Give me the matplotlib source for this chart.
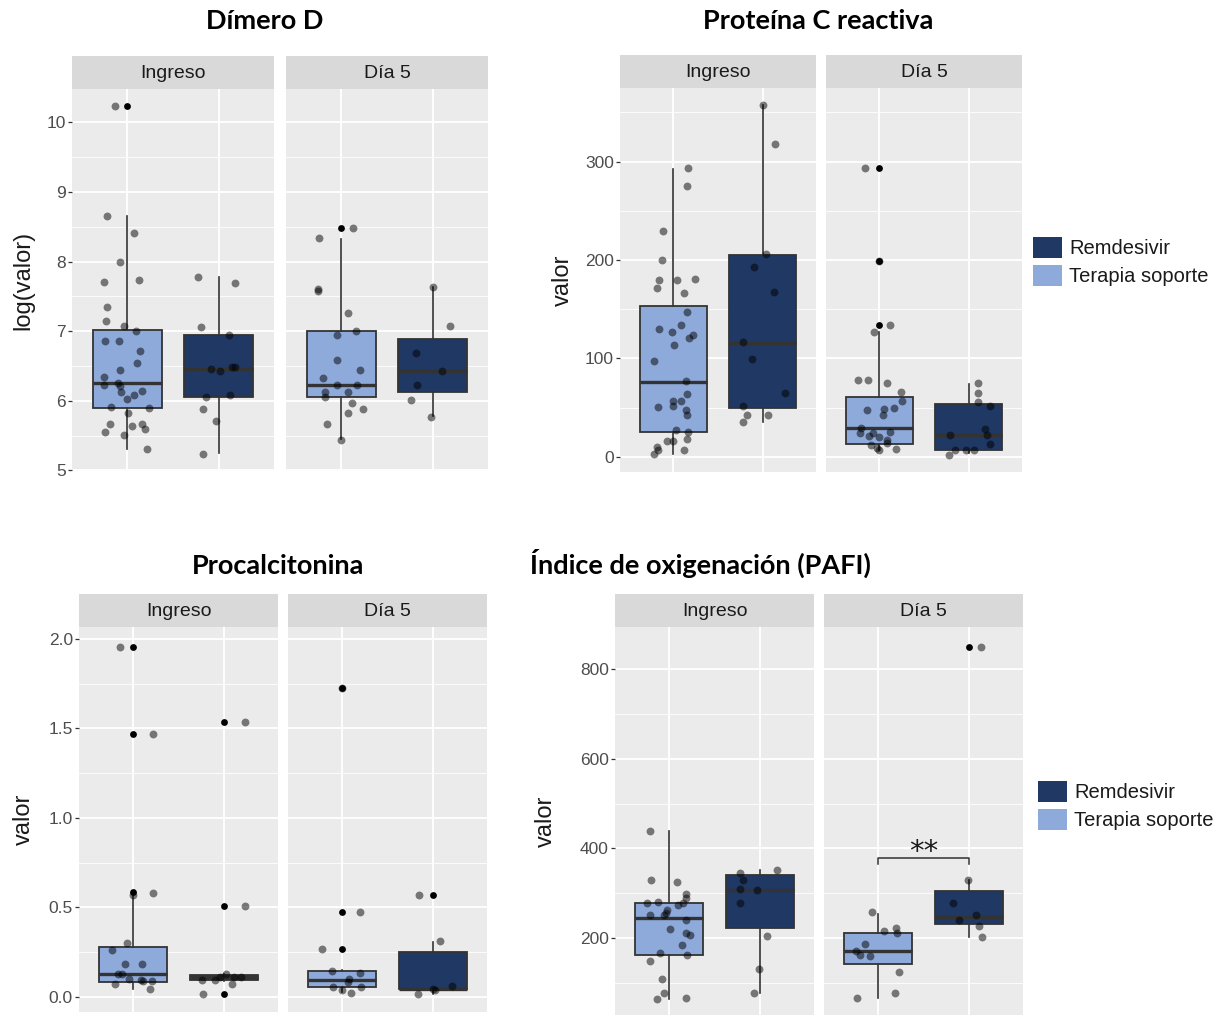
import numpy as np
import matplotlib
matplotlib.use("Agg")
import matplotlib.pyplot as plt
from matplotlib.patches import Rectangle
from matplotlib.ticker import MultipleLocator, FormatStrFormatter

plt.rcParams['font.family'] = ['Liberation Sans', 'DejaVu Sans']

W, H = 1232, 1015
BG = '#EBEBEB'
STRIP = '#D9D9D9'
C_REM = '#1F3864'
C_TS = '#8EAADB'
LINE = '#333333'

facets = ['Ingreso', 'Día 5']
groups = ['Remdesivir', 'Terapia soporte']

# ---- Dímero D (log) ----  box = [whislo, q1, med, q3, whishi]
dd_ing_ts_box = [5.30, 5.90, 6.25, 7.02, 8.65]
dd_ing_ts_y = [10.23, 8.66, 8.41, 8.00, 7.70, 7.73, 7.35, 7.14, 7.08, 7.00, 6.86, 6.86, 6.72,
               6.54, 6.44, 6.34, 6.23, 6.25, 6.21, 6.13, 6.14, 6.08, 6.02, 5.91, 5.89, 5.83,
               5.66, 5.63, 5.66, 5.55, 5.59, 5.51, 5.30]
dd_ing_ts_dx = [-0.13, -0.22, 0.08, -0.08, -0.25, 0.13, -0.22, -0.23, -0.03, 0.10, -0.24, -0.09, 0.14,
                0.11, -0.08, -0.25, -0.25, -0.10, -0.08, -0.07, 0.16, 0.08, 0.00, -0.17, 0.24, 0.01,
                -0.19, 0.05, 0.16, -0.24, 0.20, -0.03, 0.22]
dd_ing_ts_out = [10.23]
dd_ing_rem_box = [5.25, 6.06, 6.45, 6.95, 7.78]
dd_ing_rem_y = [7.78, 7.69, 7.06, 6.94, 6.45, 6.42, 6.49, 6.48, 6.06, 6.08, 5.88, 5.71, 5.24]
dd_ing_rem_dx = [-0.23, 0.17, -0.19, 0.11, -0.09, 0.01, 0.14, 0.17, -0.14, 0.12, -0.17, -0.03, -0.17]
dd_ing_rem_out = []
dd_d5_ts_box = [5.45, 6.06, 6.23, 7.00, 8.32]
dd_d5_ts_y = [8.34, 8.48, 7.60, 7.57, 7.26, 7.00, 6.94, 6.59, 6.44, 6.33, 6.23, 6.23, 6.13, 6.13,
              6.06, 5.97, 5.88, 5.83, 5.66, 5.43]
dd_d5_ts_dx = [-0.24, 0.13, -0.25, -0.25, 0.07, 0.16, -0.05, -0.04, 0.21, -0.20, -0.04, 0.17, -0.17, 0.07,
               -0.17, 0.12, 0.24, 0.07, -0.15, 0.00]
dd_d5_ts_out = [8.48]
dd_d5_rem_box = [5.78, 6.12, 6.43, 6.88, 7.63]
dd_d5_rem_y = [7.64, 7.08, 6.68, 6.43, 6.23, 6.01, 5.76]
dd_d5_rem_dx = [0.00, 0.19, -0.18, 0.10, -0.17, -0.24, -0.02]
dd_d5_rem_out = []

# ---- Proteína C reactiva ----
pcr_ing_ts_box = [3.4, 25.5, 76.5, 153, 292]
pcr_ing_ts_y = [293, 275, 229, 200, 180, 172, 180, 181, 167, 147, 130, 127, 134, 124, 121, 114, 97.5,
                77, 63.5, 57, 57, 51.6, 50.6, 47.6, 42.5, 27, 25.5, 18.7, 16, 16, 10, 7.5, 3.4, 7.5]
pcr_ing_ts_dx = [0.16, 0.15, -0.12, -0.13, -0.16, -0.19, 0.04, 0.24, 0.12, 0.15, -0.16, -0.02, 0.09,
                 0.22, 0.18, 0.01, -0.22, 0.14, 0.15, 0.09, 0.00, -0.01, -0.17, 0.14, 0.15, 0.03,
                 0.16, 0.15, -0.07, -0.01, -0.19, -0.17, -0.22, 0.12]
pcr_ing_ts_out = []
pcr_ing_rem_box = [35, 50, 115.5, 205.5, 357]
pcr_ing_rem_y = [357, 318, 206, 193, 168, 117, 99, 64.5, 51.6, 42.5, 42.5, 35]
pcr_ing_rem_dx = [0.01, 0.14, 0.04, -0.10, 0.13, -0.22, -0.12, 0.25, -0.22, -0.17, 0.06, -0.22]
pcr_ing_rem_out = []
pcr_d5_ts_box = [7, 13.6, 29, 61, 126.5]
pcr_d5_ts_y = [293, 199.5, 133.5, 127, 78, 78, 75, 65.6, 57, 50, 48.6, 48, 43, 29, 24.5, 25.5, 24, 21,
               20.4, 17, 12, 9.5, 7, 8.5, 14]
pcr_d5_ts_dx = [-0.16, 0.00, 0.12, -0.06, -0.24, -0.13, 0.08, 0.24, 0.25, 0.16, 0.05, -0.14, 0.04,
                -0.21, -0.07, 0.12, -0.22, -0.12, -0.01, 0.08, -0.10, -0.03, 0.00, 0.19, 0.09]
pcr_d5_ts_out = [293, 199.5, 133.5]
pcr_d5_rem_box = [4, 7.5, 22, 53.3, 74]
pcr_d5_rem_y = [75, 65, 56, 52, 22, 28, 22, 13.6, 7.5, 7, 7.5, 2.4]
pcr_d5_rem_dx = [0.11, 0.11, 0.11, 0.24, -0.21, 0.19, 0.21, 0.24, -0.15, -0.03, 0.06, -0.22]
pcr_d5_rem_out = []

# ---- Procalcitonina ----
pct_ing_ts_box = [0.047, 0.084, 0.127, 0.28, 0.568]
pct_ing_ts_y = [1.957, 1.467, 0.583, 0.568, 0.302, 0.261, 0.183, 0.183, 0.13, 0.13, 0.10, 0.07,
                0.097, 0.09, 0.047, 0.09]
pct_ing_ts_dx = [-0.15, 0.22, 0.22, 0.00, -0.07, -0.23, -0.09, 0.10, -0.17, -0.13, -0.05, -0.20,
                 0.09, 0.21, 0.18, 0.11]
pct_ing_ts_out = [1.957, 1.467, 0.587]
pct_ing_rem_box = [0.09, 0.095, 0.112, 0.125, 0.13]
pct_ing_rem_y = [1.538, 0.507, 0.093, 0.093, 0.11, 0.13, 0.11, 0.11, 0.07, 0.019]
pct_ing_rem_dx = [0.23, 0.24, -0.24, -0.10, -0.04, 0.03, 0.11, 0.19, 0.09, -0.23]
pct_ing_rem_out = [1.538, 0.507, 0.019]
pct_d5_ts_box = [0.03, 0.056, 0.097, 0.145, 0.15]
pct_d5_ts_y = [1.728, 0.475, 0.267, 0.144, 0.136, 0.103, 0.084, 0.056, 0.056, 0.037, 0.024]
pct_d5_ts_dx = [0.00, 0.20, -0.22, -0.11, 0.20, 0.07, 0.06, -0.10, 0.21, 0.00, 0.10]
pct_d5_ts_out = [1.728, 0.475, 0.267]
pct_d5_rem_box = [0.015, 0.043, 0.047, 0.252, 0.307]
pct_d5_rem_y = [0.572, 0.313, 0.043, 0.061, 0.015, 0.037]
pct_d5_rem_dx = [-0.15, 0.08, 0.00, 0.21, -0.16, 0.02]
pct_d5_rem_out = [0.572]

# ---- Índice de oxigenación (PAFI) ----
pafi_ing_ts_box = [64.5, 161, 245, 277, 438]
pafi_ing_ts_y = [439, 330, 325, 297, 290, 277, 280, 277, 273, 263, 256, 251, 251, 241, 221, 210, 206,
                 184, 166, 163, 148, 109, 78, 64.5, 67]
pafi_ing_ts_dx = [-0.21, -0.20, 0.08, 0.18, 0.19, -0.25, -0.13, 0.15, 0.10, -0.02, -0.04, -0.21, -0.06,
                  0.19, 0.01, 0.18, 0.23, 0.14, -0.10, 0.20, -0.21, -0.08, -0.06, -0.14, 0.18]
pafi_ing_ts_out = []
pafi_ing_rem_box = [78, 222, 308, 341, 352]
pafi_ing_rem_y = [345, 352, 329, 309, 307, 279, 204.5, 131.5, 78]
pafi_ing_rem_dx = [-0.22, 0.19, -0.19, -0.22, -0.03, -0.22, 0.08, -0.01, -0.06]
pafi_ing_rem_out = []
pafi_d5_ts_box = [67, 141, 170, 212, 254]
pafi_d5_ts_y = [257, 216, 222, 210, 187, 171, 163, 159, 124, 78, 67]
pafi_d5_ts_dx = [-0.07, 0.06, 0.20, 0.21, -0.15, -0.25, -0.20, -0.09, 0.23, 0.19, -0.23]
pafi_d5_ts_out = []
pafi_d5_rem_box = [202, 232, 247, 304, 330]
pafi_d5_rem_y = [850, 330, 279, 251, 239.5, 226, 202]
pafi_d5_rem_dx = [0.14, -0.01, -0.17, 0.08, -0.11, 0.11, 0.15]
pafi_d5_rem_out = [850]
pafi_sig_y = 379
pafi_sig_label = '**'


def px_axes(fig, left, top, width, height):
    return fig.add_axes([left / W, 1 - (top + height) / H, width / W, height / H])


def draw_facet(ax, data, ylim, major, minor, show_labels, fmt=None):
    ax.set_facecolor(BG)
    for s in ax.spines.values():
        s.set_visible(False)
    ax.set_xlim(0.4, 2.6)
    ax.set_ylim(*ylim)
    ax.set_xticks([1, 2])
    ax.set_yticks(major)
    ax.yaxis.set_minor_locator(MultipleLocator(minor))
    ax.grid(True, which='major', color='white', lw=1.3)
    ax.grid(True, which='minor', axis='y', color='white', lw=0.6)
    ax.set_axisbelow(True)
    for pos, (box, ys, dxs, outs, color) in enumerate(data, start=1):
        stats = dict(zip(['whislo', 'q1', 'med', 'q3', 'whishi'], box))
        stats['fliers'] = []
        ax.bxp([stats], positions=[pos], widths=0.75, patch_artist=True, showfliers=False,
               showcaps=False, manage_ticks=False,
               boxprops=dict(facecolor=color, edgecolor=LINE, linewidth=1.3),
               medianprops=dict(color=LINE, linewidth=2.4),
               whiskerprops=dict(color=LINE, linewidth=1.2))
        if outs:
            ax.scatter([pos] * len(outs), outs, s=24, color='black', lw=0, zorder=3)
        ax.scatter(pos + np.array(dxs), ys, s=32, color='black', alpha=0.5, lw=0, zorder=4)
    ax.tick_params(axis='x', length=0, labelbottom=False)
    ax.tick_params(axis='y', which='minor', length=0)
    ax.tick_params(axis='y', which='major', length=3 if show_labels else 0, width=0.9, color=LINE,
                   pad=1.5, labelsize=12.5, labelcolor='#4D4D4D', labelleft=show_labels)
    if fmt:
        ax.yaxis.set_major_formatter(FormatStrFormatter(fmt))


def draw_strip(fig, left, top, width, label):
    s = px_axes(fig, left, top, width, 33)
    s.set_facecolor(STRIP)
    s.set_xticks([])
    s.set_yticks([])
    for sp in s.spines.values():
        sp.set_visible(False)
    s.text(0.5, 0.48, label, ha='center', va='center', fontsize=14, color='#1A1A1A',
           transform=s.transAxes)


def draw_panel(fig, left1, left2, width, top, height, title, title_x, title_y, ylabel, ylabel_x,
               facet_data, ylim, major, minor, fmt=None):
    axes = []
    for left, label, data in zip([left1, left2], facets, facet_data):
        ax = px_axes(fig, left, top, width, height)
        draw_facet(ax, data, ylim, major, minor, left == left1, fmt)
        draw_strip(fig, left, top - 33, width, label)
        axes.append(ax)
    fig.text(title_x / W, 1 - title_y / H, title, ha='center', va='baseline', fontsize=19.5,
             fontweight='bold', family=['Lato', 'DejaVu Sans'])
    fig.text(ylabel_x / W, 1 - (top + height / 2) / H, ylabel, ha='center', va='center',
             rotation=90, fontsize=17, color='#1A1A1A')
    return axes


def draw_legend(fig, left, top):
    for i, (name, color) in enumerate(zip(groups, [C_REM, C_TS])):
        y0 = top + i * 28
        fig.patches.append(Rectangle((left / W, 1 - (y0 + 21) / H), 29 / W, 21 / H,
                                     transform=fig.transFigure, facecolor=color, edgecolor='none'))
        fig.text((left + 36) / W, 1 - (y0 + 11) / H, name, ha='left', va='center',
                 fontsize=14.5, color='#1A1A1A')


fig = plt.figure(figsize=(W / 100, H / 100), dpi=100)
fig.patch.set_facecolor('white')

draw_panel(fig, 72, 286, 202, 89, 382, 'Dímero D', 265, 29, 'log(valor)', 23,
           [[(dd_ing_ts_box, dd_ing_ts_y, dd_ing_ts_dx, dd_ing_ts_out, C_TS),
             (dd_ing_rem_box, dd_ing_rem_y, dd_ing_rem_dx, dd_ing_rem_out, C_REM)],
            [(dd_d5_ts_box, dd_d5_ts_y, dd_d5_ts_dx, dd_d5_ts_out, C_TS),
             (dd_d5_rem_box, dd_d5_rem_y, dd_d5_rem_dx, dd_d5_rem_out, C_REM)]],
           (4.99, 10.48), [5, 6, 7, 8, 9, 10], 0.5)

draw_panel(fig, 620, 826, 196, 88, 384, 'Proteína C reactiva', 818, 29, 'valor', 563,
           [[(pcr_ing_ts_box, pcr_ing_ts_y, pcr_ing_ts_dx, pcr_ing_ts_out, C_TS),
             (pcr_ing_rem_box, pcr_ing_rem_y, pcr_ing_rem_dx, pcr_ing_rem_out, C_REM)],
            [(pcr_d5_ts_box, pcr_d5_ts_y, pcr_d5_ts_dx, pcr_d5_ts_out, C_TS),
             (pcr_d5_rem_box, pcr_d5_rem_y, pcr_d5_rem_dx, pcr_d5_rem_out, C_REM)]],
           (-15.3, 374.7), [0, 100, 200, 300], 50)

draw_panel(fig, 79, 288, 199, 627, 385, 'Procalcitonina', 278, 574, 'valor', 24,
           [[(pct_ing_ts_box, pct_ing_ts_y, pct_ing_ts_dx, pct_ing_ts_out, C_TS),
             (pct_ing_rem_box, pct_ing_rem_y, pct_ing_rem_dx, pct_ing_rem_out, C_REM)],
            [(pct_d5_ts_box, pct_d5_ts_y, pct_d5_ts_dx, pct_d5_ts_out, C_TS),
             (pct_d5_rem_box, pct_d5_rem_y, pct_d5_rem_dx, pct_d5_rem_out, C_REM)]],
           (-0.084, 2.067), [0.0, 0.5, 1.0, 1.5, 2.0], 0.25, fmt='%.1f')

pafi_axes = draw_panel(fig, 615, 824, 199, 627, 388, 'Índice de oxigenación (PAFI)', 700, 574, 'valor', 546,
                       [[(pafi_ing_ts_box, pafi_ing_ts_y, pafi_ing_ts_dx, pafi_ing_ts_out, C_TS),
                         (pafi_ing_rem_box, pafi_ing_rem_y, pafi_ing_rem_dx, pafi_ing_rem_out, C_REM)],
                        [(pafi_d5_ts_box, pafi_d5_ts_y, pafi_d5_ts_dx, pafi_d5_ts_out, C_TS),
                         (pafi_d5_rem_box, pafi_d5_rem_y, pafi_d5_rem_dx, pafi_d5_rem_out, C_REM)]],
                       (28, 894), [200, 400, 600, 800], 100)

# significance bracket on Día 5
ax_sig = pafi_axes[1]
ax_sig.plot([1, 1, 2, 2], [pafi_sig_y - 14, pafi_sig_y, pafi_sig_y, pafi_sig_y - 14],
            color=LINE, lw=1.1, zorder=5)
ax_sig.text(1.5, pafi_sig_y - 18, pafi_sig_label, ha='center', va='bottom', fontsize=21,
            color='#1A1A1A', family='DejaVu Sans')

draw_legend(fig, 1033, 237)
draw_legend(fig, 1038, 781)

fig.savefig('out.png', dpi=100, facecolor='white')
